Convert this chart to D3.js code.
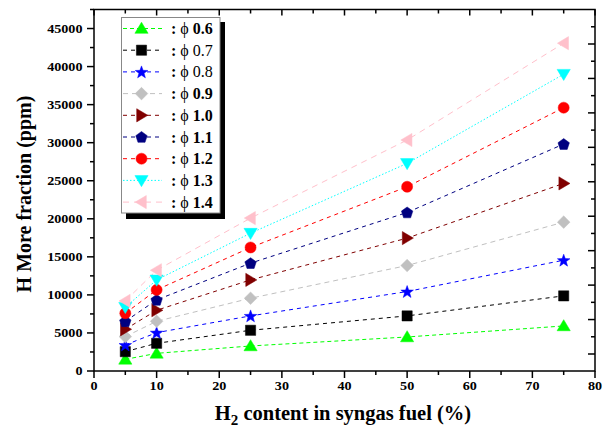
<!DOCTYPE html>
<html><head><meta charset="utf-8">
<script src="https://cdn.jsdelivr.net/npm/d3@7"></script>
<style>body{margin:0;background:#fff}svg{display:block}</style>
</head><body>
<svg id="c" width="612" height="436"></svg>
<script>
const xVals = [5, 10, 25, 50, 75];
const phiLabels = ["0.6","0.7","0.8","0.9","1.0","1.1","1.2","1.3","1.4"];
const phi06 = [1530, 2320, 3290, 4470, 5920];
const phi07 = [2540, 3640, 5350, 7240, 9870];
const phi08 = [3420, 5040, 7240, 10440, 14560];
const phi09 = [4520, 6530, 9560, 13860, 19560];
const phi10 = [5480, 7980, 11970, 17460, 24650];
const phi11 = [6530, 9340, 14170, 20830, 29820];
const phi12 = [7590, 10660, 16230, 24210, 34600];
const phi13 = [8370, 11970, 18110, 27280, 39000];
const phi14 = [9210, 13240, 20090, 30350, 43070];
const xTicks = [0,10,20,30,40,50,60,70,80];
const yTicks = [0,5000,10000,15000,20000,25000,30000,35000,40000,45000];

const seriesVals = [phi06,phi07,phi08,phi09,phi10,phi11,phi12,phi13,phi14];
const colors = ["#00ff00","#000000","#0000ff","#c0c0c0","#800000","#000080","#ff0000","#00ffff","#ffc0cb"];
const shapes = ["tri","square","star","diamond","right","pent","circle","down","left"];
const dashes = ["4,3","4,4","4,4","5,4","4,4","4,4","4,4","1.5,2","6,5"];
const boldNum = [true,false,false,true,true,true,true,true,true];

const svg = d3.select("#c");
const L=94, R=595, T=9.5, B=371;
const x = d3.scaleLinear().domain([0,80]).range([L,R]);
const y = d3.scaleLinear().domain([0,47500]).range([B,T]);
const yR = d3.scaleLinear().domain([5000,50000]).range([354,44]);

function shapePath(t, s){
  if(t==="tri"){ return `M0,${-s*1.05}L${s*1.1},${s*0.8}L${-s*1.1},${s*0.8}Z`; }
  if(t==="down"){ return `M0,${s*1.05}L${s*1.1},${-s*0.8}L${-s*1.1},${-s*0.8}Z`; }
  if(t==="right"){ return `M${s*1.05},0L${-s*0.8},${s*1.1}L${-s*0.8},${-s*1.1}Z`; }
  if(t==="left"){ return `M${-s*1.05},0L${s*0.8},${s*1.1}L${s*0.8},${-s*1.1}Z`; }
  if(t==="square"){ const a=s*0.85; return `M${-a},${-a}H${a}V${a}H${-a}Z`; }
  if(t==="diamond"){ const a=s*1.05; return `M0,${-a}L${a},0L0,${a}L${-a},0Z`; }
  if(t==="circle"){ const r=s*0.92; return `M${r},0A${r},${r} 0 1,1 ${-r},0A${r},${r} 0 1,1 ${r},0Z`; }
  if(t==="pent"){ let d=""; for(let i=0;i<5;i++){const a=-Math.PI/2+i*2*Math.PI/5; d+=(i?"L":"M")+(s*Math.cos(a)).toFixed(2)+","+(s*Math.sin(a)+0.5).toFixed(2);} return d+"Z"; }
  if(t==="star"){ let d=""; for(let i=0;i<10;i++){const a=-Math.PI/2+i*Math.PI/5; const r=i%2?s*0.45:s*1.1; d+=(i?"L":"M")+(r*Math.cos(a)).toFixed(2)+","+(r*Math.sin(a)+0.6).toFixed(2);} return d+"Z"; }
}
const S = 6;

const line = d3.line().x((d,i)=>x(xVals[i])).y(d=>y(d));
seriesVals.forEach((vals,k)=>{
  svg.append("path").attr("d", line(vals)).attr("fill","none")
    .attr("stroke",colors[k]).attr("stroke-width",1).attr("stroke-dasharray",dashes[k]);
});
seriesVals.forEach((vals,k)=>{
  svg.append("g").selectAll("path").data(vals).join("path")
    .attr("transform",(d,i)=>`translate(${x(xVals[i])},${y(d)})`)
    .attr("d", shapePath(shapes[k], S)).attr("fill",colors[k]).attr("stroke",colors[k]).attr("stroke-width",0.5);
});

const ax = svg.append("g").attr("stroke","#000").attr("stroke-width",1.5);
ax.append("rect").attr("x",L).attr("y",T).attr("width",R-L).attr("height",B-T).attr("fill","none");
d3.range(0,81,5).forEach(v=>{
  const major = v%10===0;
  ax.append("line").attr("x1",x(v)).attr("x2",x(v)).attr("y1",B).attr("y2",B+(major?7:4));
  ax.append("line").attr("x1",x(v)).attr("x2",x(v)).attr("y1",T).attr("y2",T+(major?6:4));
});
d3.range(0,47501,2500).forEach(v=>{
  const major = v%5000===0;
  ax.append("line").attr("y1",y(v)).attr("y2",y(v)).attr("x1",L).attr("x2",L-(major?7:4));
});
d3.range(5000,52501,2500).forEach(v=>{
  const major = v%5000===0;
  ax.append("line").attr("y1",yR(v)).attr("y2",yR(v)).attr("x1",R).attr("x2",R-(major?7:4));
});

const font = "'Liberation Serif','Times New Roman',serif";
svg.append("g").selectAll("text").data(xTicks).join("text")
  .attr("transform",d=>`translate(${x(d)},${B+19}) scale(1.18,1)`).attr("text-anchor","middle")
  .attr("font-family",font).attr("font-weight","bold").attr("font-size",12).text(d=>d);
svg.append("g").selectAll("text").data(yTicks).join("text")
  .attr("transform",d=>`translate(${L-11.5},${y(d)+4}) scale(1.18,1)`).attr("text-anchor","end")
  .attr("font-family",font).attr("font-weight","bold").attr("font-size",12).text(d=>d);

const xt = svg.append("text").attr("x",343).attr("y",420).attr("text-anchor","middle")
  .attr("font-family",font).attr("font-weight","bold").attr("font-size",20.5);
xt.append("tspan").text("H");
xt.append("tspan").attr("font-size",15).attr("dy",5).text("2");
xt.append("tspan").attr("dy",-5).text(" content in syngas fuel (%)");
svg.append("text").attr("transform","translate(31,194) rotate(-90)").attr("text-anchor","middle")
  .attr("font-family",font).attr("font-weight","bold").attr("font-size",20).text("H More fraction (ppm)");

const lg = svg.append("g");
lg.append("rect").attr("x",126).attr("y",22).attr("width",99).attr("height",197).attr("fill","#000");
lg.append("rect").attr("x",121.5).attr("y",17.5).attr("width",98.5).attr("height",195.5).attr("fill","#fff").attr("stroke","#888").attr("stroke-width",1);
phiLabels.forEach((lab,k)=>{
  const cy = 28.5 + k*21.7;
  lg.append("line").attr("x1",123).attr("x2",162).attr("y1",cy).attr("y2",cy)
    .attr("stroke",colors[k]).attr("stroke-width",1).attr("stroke-dasharray",dashes[k]);
  lg.append("path").attr("transform",`translate(141.5,${cy})`).attr("d",shapePath(shapes[k],S))
    .attr("fill",colors[k]).attr("stroke",colors[k]).attr("stroke-width",0.5);
  const t = lg.append("text").attr("x",171).attr("y",cy+5.5).attr("font-family",font).attr("font-size",16);
  t.append("tspan").attr("font-weight","bold").text(": ");
  t.append("tspan").text("\u03d5 ");
  t.append("tspan").attr("font-weight",boldNum[k]?"bold":"normal").text(lab);
});
</script>
</body></html>
